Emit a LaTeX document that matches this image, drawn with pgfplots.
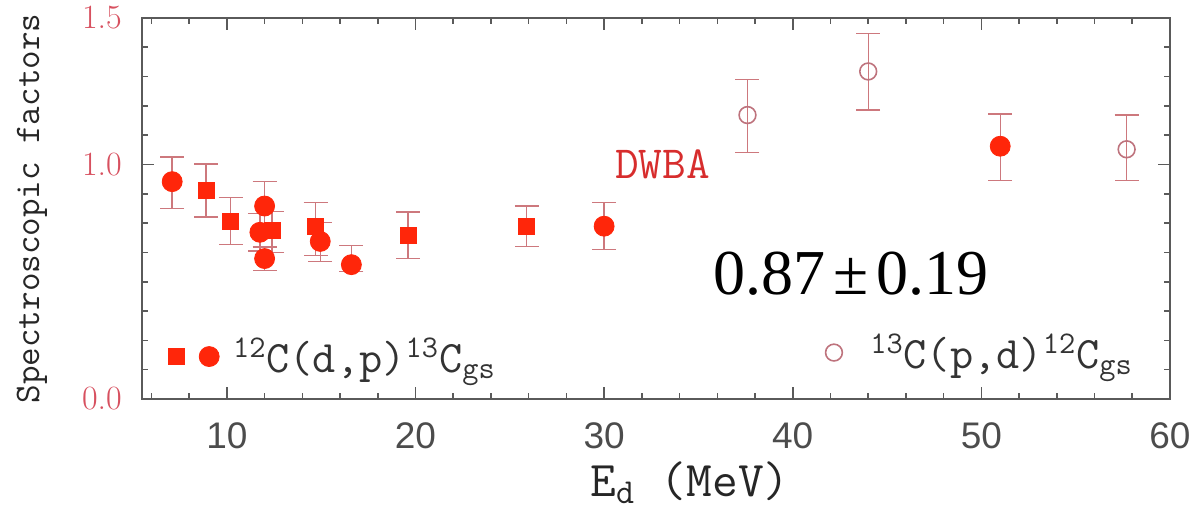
\documentclass[border=0pt]{standalone}
\usepackage{fontspec}
\usepackage{pgfplots}
\pgfplotsset{compat=1.18}
\newfontfamily\tickfont{Liberation Sans}
\newfontfamily\timesfont{Liberation Serif}

\definecolor{ptred}{RGB}{255,38,10}
\definecolor{errred}{RGB}{205,120,125}
\definecolor{opencol}{RGB}{190,115,125}
\definecolor{ylabred}{RGB}{215,80,95}
\definecolor{dwba}{RGB}{215,45,45}
\definecolor{frame}{RGB}{90,90,90}

% filled squares, 12C(d,p)
\pgfplotstableread{
x     y      ep     em
8.9   0.888  0.115  0.112
10.2  0.759  0.100  0.100
12.4  0.720  0.080  0.095
14.7  0.737  0.100  0.125
19.6  0.698  0.100  0.100
25.9  0.737  0.086  0.086
}\squares
% filled circles, 12C(d,p)
\pgfplotstableread{
x     y      ep     em
7.1   0.927  0.105  0.115
12.0  0.823  0.104  0.090
11.75 0.711  0.080  0.080
12.0  0.599  0.050  0.050
14.95 0.672  0.080  0.086
16.6  0.573  0.082  0.030
30.0  0.737  0.100  0.100
51.0  1.078  0.138  0.145
}\circles
% open circles, 13C(p,d)
\pgfplotstableread{
x     y      ep     em
37.6  1.211  0.151  0.159
44.0  1.397  0.163  0.164
57.7  1.065  0.146  0.134
}\opencircles

\pgfplotsset{
  base/.style={
    scale only axis, width=514pt, height=190.5pt,
    xmin=5.5, xmax=60, ymin=0, ymax=1.625,
  },
  errs/.style={
    error bars/.cd, y dir=both, y explicit,
    error mark=|,
    error bar style={errred, line width=0.7pt},
    error mark options={errred, line width=0.7pt, mark size=6pt},
  },
}

\begin{document}
\begin{tikzpicture}
\begin{axis}[base, name=ax,
  /pgf/number format/assume math mode=true,
  xtick={10,20,...,60}, minor xtick={6,8,...,58},
  ytick={0,1,1.625}, yticklabels={0.0,1.0,1.5},
  minor ytick={0.125,0.25,...,1.5},
  tick align=inside, major tick length=6pt, minor tick length=3pt,
  axis line style={frame, line width=1pt},
  every tick/.style={frame, line width=0.8pt},
  xticklabel style={anchor=center, yshift=-18.5pt, font=\tickfont\fontsize{18.5}{18.5}\selectfont, text=black!70},
  yticklabel style={anchor=center, xshift=-20pt, font=\fontsize{17}{17}\selectfont, text=ylabred},
  every axis y label/.style={at={(rel axis cs:0,0.5)}, xshift=-55pt, rotate=90, anchor=center,
    font=\ttfamily\fontsize{18}{18}\selectfont, text=black!85},
  every axis x label/.style={at={(rel axis cs:0.5,0)}, xshift=17pt, yshift=-42pt, anchor=center,
    font=\ttfamily\fontsize{25}{25}\selectfont, text=black!85},
  ylabel={Spectroscopic factors},
  xlabel={E\textsubscript{d} (MeV)},
  legend columns=2,
  legend style={at={(axis cs:6.55,0.181)}, anchor=west, draw=none, fill=none,
    font=\ttfamily\fontsize{22.5}{22.5}\selectfont, text=black!80},
  legend cell align=left,
]
\addplot[only marks, mark=square*, mark size=4pt, ptred, errs]
  table[x=x, y=y, y error plus=ep, y error minus=em] {\squares};
\addlegendentry{\rule{3.5pt}{0pt}}
\addplot[only marks, mark=*, mark size=5pt, ptred, errs]
  table[x=x, y=y, y error plus=ep, y error minus=em] {\circles};
\addlegendentry{\rule{5pt}{0pt}\textsuperscript{12}C(d,p)\textsuperscript{13}C\textsubscript{gs}}
\node[text=dwba, font=\ttfamily\fontsize{23}{23}\selectfont] at (axis cs:33.1,1.0) {DWBA};
\node[font=\timesfont\fontsize{32}{32}\selectfont] at (axis cs:43.1,0.534) {0.87\hspace{0.12em}±\hspace{0.12em}0.19};
\end{axis}
\begin{axis}[base, hide axis,
  legend style={at={(axis cs:41.4,0.198)}, anchor=west, draw=none, fill=none,
    font=\ttfamily\fontsize{22.5}{22.5}\selectfont, text=black!80},
]
\addplot[only marks, mark=o, mark size=4.2pt, opencol, line width=0.8pt, errs]
  table[x=x, y=y, y error plus=ep, y error minus=em] {\opencircles};
\addlegendentry{\rule{12pt}{0pt}\textsuperscript{13}C(p,d)\textsuperscript{12}C\textsubscript{gs}}
\end{axis}
\pgfresetboundingbox
\path ([xshift=-71pt,yshift=-56.5pt]ax.south west) rectangle ([xshift=12.5pt,yshift=9pt]ax.north east);
\end{tikzpicture}
\end{document}
